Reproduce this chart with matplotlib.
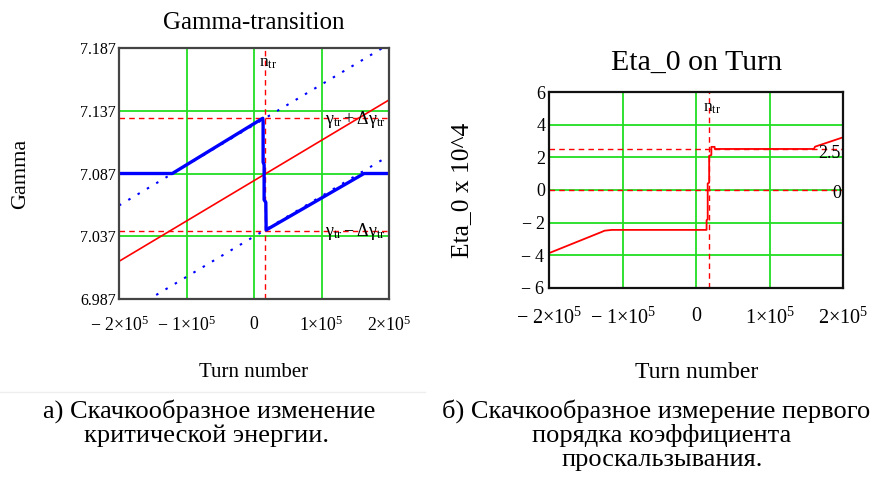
import matplotlib
matplotlib.use("Agg")
import matplotlib.pyplot as plt
from matplotlib.lines import Line2D

plt.rcParams['font.family'] = ['Liberation Serif', 'DejaVu Serif']
plt.rcParams['mathtext.fontset'] = 'custom'
plt.rcParams['mathtext.rm'] = 'Liberation Serif'
plt.rcParams['mathtext.it'] = 'Liberation Serif:italic'
plt.rcParams['mathtext.bf'] = 'Liberation Serif:bold'

# ---------------- data ----------------
turn_ticks = [-2e5, -1e5, 0, 1e5, 2e5]
turn_tick_labels = [r'$-\ 2{\times}10^{5}$', r'$-\ 1{\times}10^{5}$', r'$0$',
                    r'$1{\times}10^{5}$', r'$2{\times}10^{5}$']
n_tr = 1.7e4

# left panel: Gamma-transition
gamma_ticks = [6.987, 7.037, 7.087, 7.137, 7.187]
gamma_tick_labels = ['6.987', '7.037', '7.087', '7.137', '7.187']
gamma_upper = 7.131
gamma_lower = 7.0414
gamma_ref_x = [-2e5, 2e5]
gamma_ref_y = [7.017, 7.1456]
gamma_hi_x = [-2e5, 2e5]
gamma_hi_y = [7.0615, 7.1901]
gamma_lo_x = [-2e5, 2e5]
gamma_lo_y = [6.9725, 7.1011]
gamma_tr_x = [-2e5, -1.21e5, 1.3e4, 1.35e4, 1.35e4, 1.5e4, 1.5e4, 1.75e4, 1.8e4, 1.63e5, 2e5]
gamma_tr_y = [7.087, 7.087, 7.131, 7.128, 7.096, 7.094, 7.066, 7.064, 7.042, 7.087, 7.087]

# right panel: Eta_0 on Turn
eta_ticks = [-6, -4, -2, 0, 2, 4, 6]
eta_tick_labels = [r'$-\ 6$', r'$-\ 4$', r'$-\ 2$', '0', '2', '4', '6']
eta_level_hi = 2.5
eta_level_zero = 0
eta_x = [-2e5, -1.29e5, -1.25e5, -1.15e5, 1.4e4, 1.4e4, 1.55e4, 1.55e4, 1.75e4,
         1.75e4, 2.05e4, 2.05e4, 2.5e4, 2.5e4, 1.6e5, 1.615e5, 2e5]
eta_y = [-3.87, -2.58, -2.5, -2.45, -2.45, -1.85, -1.8, 0.4, 0.45,
         2.1, 2.15, 2.65, 2.65, 2.52, 2.52, 2.66, 3.24]

# ---------------- figure ----------------
W, H = 874, 480
fig = plt.figure(figsize=(W / 100, H / 100), dpi=100)

GREEN = '#22dd22'
FRAME = '#444444'


def ax_rect(l, t, r, b):
    return [l / W, 1 - b / H, (r - l) / W, (b - t) / H]


def style(ax):
    ax.grid(True, color=GREEN, lw=1.3, zorder=1)
    ax.set_axisbelow(True)
    ax.tick_params(length=0)
    for s in ax.spines.values():
        s.set_color(FRAME)
        s.set_linewidth(1.6)
        s.set_zorder(10)


# left
ax1 = fig.add_axes(ax_rect(119, 48, 389, 299))
ax1.set_xlim(-2e5, 2e5)
ax1.set_ylim(6.987, 7.187)
ax1.set_xticks(turn_ticks)
ax1.set_xticklabels(turn_tick_labels)
ax1.set_yticks(gamma_ticks)
ax1.set_yticklabels(gamma_tick_labels)
style(ax1)
ax1.tick_params(axis='x', pad=12, labelsize=12.8)
ax1.tick_params(axis='y', pad=2, labelsize=11.5)

ax1.plot(gamma_hi_x, gamma_hi_y, color='blue', lw=1.5, ls=(0, (1.2, 4)), zorder=3)
ax1.plot(gamma_lo_x, gamma_lo_y, color='blue', lw=1.5, ls=(0, (1.2, 4)), zorder=3)
ax1.plot(gamma_ref_x, gamma_ref_y, color='red', lw=1.2, zorder=4)
ax1.axhline(gamma_upper, color='red', lw=1.0, ls=(0, (4, 3)), zorder=4)
ax1.axhline(gamma_lower, color='red', lw=1.0, ls=(0, (4, 3)), zorder=4)
ax1.axvline(n_tr, color='red', lw=1.0, ls=(0, (4, 3)), zorder=4)
ax1.plot(gamma_tr_x, gamma_tr_y, color='blue', lw=2.4, zorder=5)

ax1.text(0.7e4, 7.175, r'$\mathrm{n_{tr}}$', fontsize=12.5, ha='left', va='center', zorder=6)
ax1.text(1.95e5, gamma_upper - 0.001, r'$\mathrm{\gamma_{tr}+\Delta\gamma_{tr}}$',
         fontsize=13, ha='right', va='center', zorder=6)
ax1.text(1.95e5, gamma_lower - 0.0005, r'$\mathrm{\gamma_{tr}-\Delta\gamma_{tr}}$',
         fontsize=13, ha='right', va='center', zorder=6)

ax1.set_title('Gamma-transition', fontsize=18, pad=14)
ax1.set_xlabel('Turn number', fontsize=15, labelpad=20)
ax1.set_ylabel('Gamma', fontsize=16, labelpad=36)

# right
ax2 = fig.add_axes(ax_rect(549.3, 92.3, 843.3, 287.7))
ax2.set_xlim(-2e5, 2e5)
ax2.set_ylim(-6, 6)
ax2.set_xticks(turn_ticks)
ax2.set_xticklabels(turn_tick_labels)
ax2.set_yticks(eta_ticks)
ax2.set_yticklabels(eta_tick_labels)
style(ax2)
for s in ax2.spines.values():
    s.set_color('#111111')
ax2.tick_params(axis='x', pad=14, labelsize=14.5)
ax2.tick_params(axis='y', pad=3, labelsize=13)

ax2.axhline(eta_level_hi, color='red', lw=1.0, ls=(0, (4, 3)), zorder=4)
ax2.axhline(eta_level_zero, color='red', lw=1.0, ls=(0, (4, 3)), zorder=4)
ax2.axvline(n_tr, color='red', lw=1.0, ls=(0, (4, 3)), zorder=4)
ax2.plot(eta_x, eta_y, color='red', lw=1.3, zorder=5)

ax2.text(0.86e4, 5.05, r'$\mathrm{n_{tr}}$', fontsize=12.5, ha='left', va='center', zorder=6)
ax2.text(1.97e5, eta_level_hi - 0.25, '2.5', fontsize=13, ha='right', va='center', zorder=6)
ax2.text(1.97e5, eta_level_zero - 0.2, '0', fontsize=13, ha='right', va='center', zorder=6)

ax2.set_title('Eta_0 on Turn', fontsize=21.5, pad=16)
ax2.set_xlabel('Turn number', fontsize=17, labelpad=24)
ax2.set_ylabel('Eta_0 x 10^4', fontsize=18.4, labelpad=34)

# separator and captions
fig.add_artist(Line2D([0, 425 / W], [1 - 392 / H, 1 - 392 / H], color='#eeeeee', lw=1))
cap = 19
fig.text(209 / W, 1 - 418 / H, 'а) Скачкообразное изменение', fontsize=cap, ha='center', va='baseline')
fig.text(207 / W, 1 - 442 / H, 'критической энергии.', fontsize=cap, ha='center', va='baseline')
fig.text(870 / W, 1 - 418 / H, 'б) Скачкообразное измерение первого', fontsize=cap, ha='right', va='baseline')
fig.text(662 / W, 1 - 442 / H, 'порядка коэффициента', fontsize=cap, ha='center', va='baseline')
fig.text(662 / W, 1 - 466 / H, 'проскальзывания.', fontsize=cap, ha='center', va='baseline')

fig.savefig('out.png', dpi=100)
